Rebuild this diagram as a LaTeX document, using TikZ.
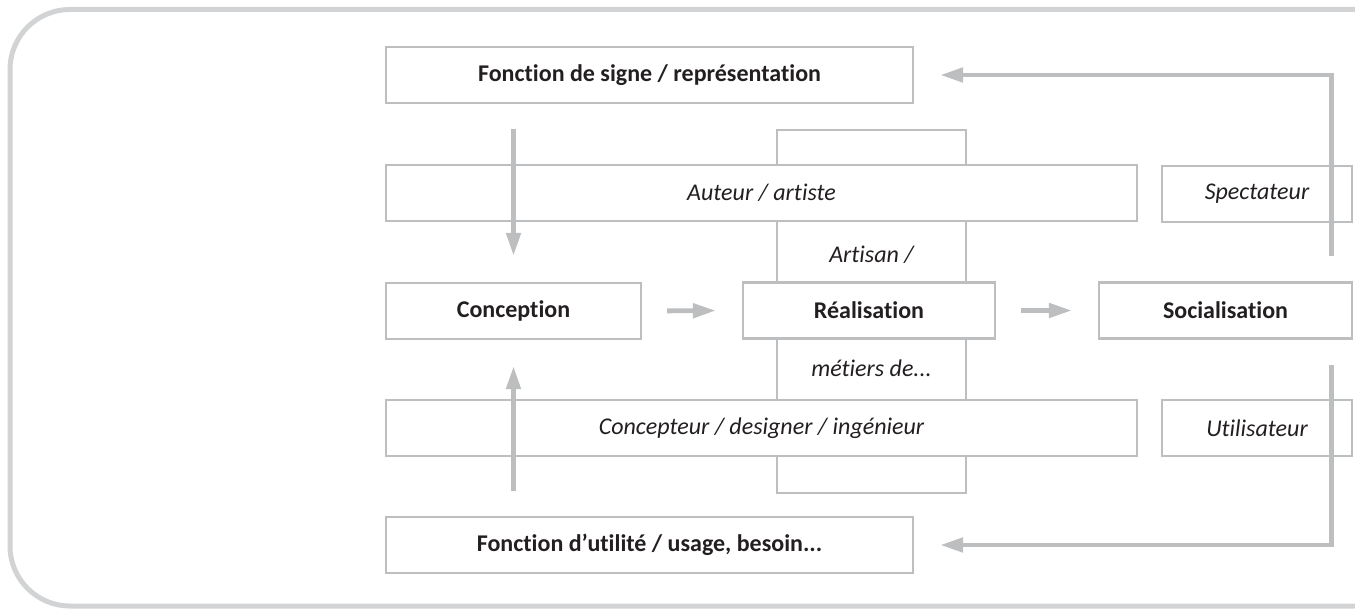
\documentclass[tikz,border=0pt]{standalone}
\usepackage{fontspec}
\setmainfont{Carlito}[Ligatures={NoCommon}]
\usetikzlibrary{arrows.meta}
\definecolor{boxgray}{HTML}{BCBEC0}
\definecolor{framegray}{HTML}{D1D3D4}
\definecolor{ink}{HTML}{231F20}

\begin{document}
\begin{tikzpicture}[x=0.5pt,y=-0.5pt,
		box/.style={draw=boxgray,line width=1.1pt,fill=white,text=ink,inner sep=0pt,minimum height=28pt},
		stage/.style={box,font=\fontsize{12pt}{14pt}\selectfont\bfseries},
		role/.style={box,font=\fontsize{12pt}{14pt}\selectfont\itshape},
		tag/.style={text=ink,inner sep=0pt,font=\fontsize{12pt}{14pt}\selectfont\itshape},
		flow/.style={draw=boxgray,line width=2.4pt,-{Triangle[length=11.5pt,width=7pt]},shorten <=12.5pt,shorten >=13pt}]
			\useasboundingbox (0,0) rectangle (1355,609);
			\draw[framegray,line width=2.5pt,rounded corners=30pt] (1370,9.5) -- (10,9.5) -- (10,606) -- (1370,606);

			\node[box,fill=none,minimum width=94.5pt,minimum height=181.5pt] (metier) at (871.5,311.5) {};

			\node[stage,minimum width=263.5pt] (signe) at (649.5,75) {Fonction de signe / représentation};
			\node[role,minimum width=375.5pt] (auteur) at (761.5,193) {Auteur / artiste};
			\node[role,minimum width=95pt] (spect) at (1257,194) {Spectateur};
			\node[stage,minimum width=127.5pt] (concep) at (513.5,311) {Conception};
			\node[stage,minimum width=126pt] (real) at (869,310.5) {Réalisation};
			\node[stage,minimum width=126.5pt] (social) at (1225.5,310.5) {Socialisation};
			\node[role,minimum width=375.5pt] (concepteur) at (761.5,428) {Concepteur / designer / ingénieur};
			\node[role,minimum width=95pt] (util) at (1257,428) {Utilisateur};
			\node[stage,minimum width=263.5pt] (utilite) at (649.5,545) {Fonction d’utilité / usage, besoin...};

			\node[tag] (artisan) at (871.5,255) {Artisan /};
			\node[tag] (metiers) at (871.5,368) {métiers de...};

			\draw[flow] (signe.south -| concep.north) -- (concep.north);
			\draw[flow] (utilite.north -| concep.south) -- (concep.south);
			\draw[flow] (concep.east) -- (real.west);
			\draw[flow] (real.east) -- (social.west);
			\draw[flow] ([xshift=-11pt]social.north east) |- (signe.east);
			\draw[flow] ([xshift=-11pt]social.south east) |- (utilite.east);
		\end{tikzpicture}
\end{document}
